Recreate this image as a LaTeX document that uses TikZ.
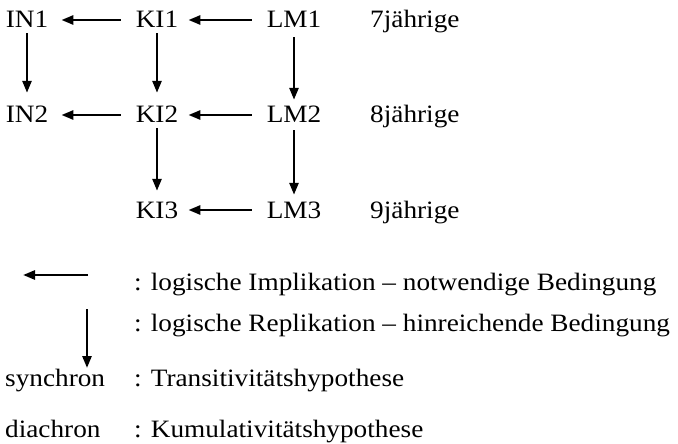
\documentclass[tikz,border=0pt]{standalone}
\usepackage{fontspec}
\setmainfont{Liberation Serif}[FakeStretch=1.09]
\usetikzlibrary{arrows.meta}
\begin{document}
\begin{tikzpicture}[x=1pt,y=-1pt,
  lbl/.style={inner sep=0pt,text height=16pt,text depth=0pt,font=\fontsize{25}{30}\selectfont},
  txt/.style={inner sep=0pt,anchor=base west,font=\fontsize{25}{30}\selectfont},
  arr/.style={line width=2.6pt,-{Triangle[length=12pt,width=9pt]}}]
\useasboundingbox (0,0) rectangle (678,444);
% grid of groups and ages
\node[lbl] (IN1) at (27,20) {IN1};
\node[lbl] (KI1) at (157,20) {KI1};
\node[lbl] (LM1) at (294,20) {LM1};
\node[lbl] (IN2) at (27,115) {IN2};
\node[lbl] (KI2) at (157,115) {KI2};
\node[lbl] (LM2) at (294,115) {LM2};
\node[lbl] (KI3) at (157,210) {KI3};
\node[lbl] (LM3) at (294,210) {LM3};
\node[lbl,anchor=west] (A7) at (370,20) {7jährige};
\node[lbl,anchor=west] (A8) at (370,115) {8jährige};
\node[lbl,anchor=west] (A9) at (370,210) {9jährige};
% implications (right to left)
\draw[arr,shorten <=15pt,shorten >=13pt] (KI1) -- (IN1);
\draw[arr,shorten <=15pt,shorten >=10pt] (LM1) -- (KI1);
\draw[arr,shorten <=15pt,shorten >=13pt] (KI2) -- (IN2);
\draw[arr,shorten <=15pt,shorten >=10pt] (LM2) -- (KI2);
\draw[arr,shorten <=15pt,shorten >=10pt] (LM3) -- (KI3);
% replications (top to bottom)
\draw[arr,shorten <=5pt,shorten >=14pt] (IN1) -- (IN2);
\draw[arr,shorten <=5pt,shorten >=14pt] (KI1) -- (KI2);
\draw[arr,shorten <=9pt,shorten >=7pt] (LM1) -- (LM2);
\draw[arr,shorten <=5pt,shorten >=11pt] (KI2) -- (KI3);
\draw[arr,shorten <=7pt,shorten >=7pt] (LM2) -- (LM3);
% legend
\coordinate (h0) at (88,275);
\coordinate (h1) at (23,275);
\coordinate (v0) at (87,309);
\coordinate (v1) at (87,368);
\draw[arr] (h0) -- (h1);
\draw[arr] (v0) -- (v1);
\node[txt] (L1) at (134,290) {: logische Implikation -- notwendige Bedingung};
\node[txt] (L2) at (134,331) {: logische Replikation -- hinreichende Bedingung};
\node[txt] (S) at (5,386) {synchron};
\node[txt] (L3) at (134,386) {: Transitivitätshypothese};
\node[txt] (D) at (5,437) {diachron};
\node[txt] (L4) at (134,437) {: Kumulativitätshypothese};
\end{tikzpicture}
\end{document}
